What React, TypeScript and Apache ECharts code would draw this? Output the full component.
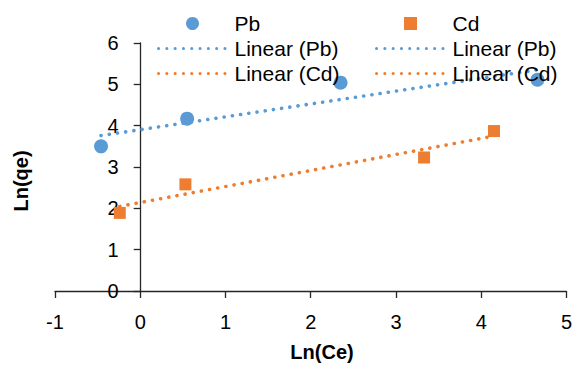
import React, { useEffect, useRef } from "react";
import * as echarts from "echarts";

const pbX = [-0.46, 0.55, 2.35, 4.66];
const pbY = [3.5, 4.17, 5.04, 5.11];
const cdX = [-0.24, 0.53, 3.33, 4.15];
const cdY = [1.89, 2.58, 3.23, 3.87];
const xTicks = { min: -1, max: 5, interval: 1 };
const yTicks = { min: 0, max: 6, interval: 1 };

const BLUE = "#5B9BD5";
const ORANGE = "#ED7D31";
const FONT = "Arial, 'Liberation Sans', sans-serif";
const SQUARE = "path://M0,0L10,0L10,10L0,10Z";

function fit(xs: number[], ys: number[]) {
  const n = xs.length;
  const mx = xs.reduce((a, b) => a + b, 0) / n;
  const my = ys.reduce((a, b) => a + b, 0) / n;
  let sxy = 0, sxx = 0;
  for (let i = 0; i < n; i++) {
    sxy += (xs[i] - mx) * (ys[i] - my);
    sxx += (xs[i] - mx) ** 2;
  }
  const m = sxy / sxx;
  const b = my - m * mx;
  const x0 = Math.min(...xs), x1 = Math.max(...xs);
  return [[x0, m * x0 + b], [x1, m * x1 + b]];
}

const GRID_LEFT = 55;
const GRID_RIGHT = 6;
const WIDTH = 575;

export default function App() {
  const ref = useRef<HTMLDivElement>(null);
  useEffect(() => {
    if (!ref.current) return;
    const chart = echarts.init(ref.current, null, { renderer: "svg" });
    const dotted = (color: string) => ({
      color,
      width: 3.6,
      type: [0.1, 8.2],
      cap: "round",
    });
    const hidden = { color: "rgba(0,0,0,0)", opacity: 0, borderWidth: 0 };
    const legendCommon = {
      orient: "vertical",
      top: 13,
      padding: 0,
      itemWidth: 68,
      itemHeight: 13,
      itemGap: 4,
      selectedMode: false,
      lineStyle: { width: 3 },
      textStyle: { fontSize: 21, lineHeight: 18, fontFamily: FONT, color: "#000", padding: [0, 0, 0, 3] },
    };
    const plotW = WIDTH - GRID_LEFT - GRID_RIGHT;
    const yOffset = -((0 - xTicks.min) / (xTicks.max - xTicks.min)) * plotW;
    const axisCol = "#262626";
    chart.setOption({
      animation: false,
      backgroundColor: "#fff",
      grid: { left: GRID_LEFT, right: GRID_RIGHT, top: 43, bottom: 74, containLabel: false },
      legend: [
        {
          ...legendCommon,
          left: 157,
          data: [
            "Pb",
            { name: "Linear (Pb)", itemStyle: hidden },
            { name: "Linear (Cd)", itemStyle: hidden },
          ],
        },
        {
          ...legendCommon,
          left: 375,
          data: [
            "Cd",
            { name: "Linear (Pb)", itemStyle: hidden },
            { name: "Linear (Cd)", itemStyle: hidden },
          ],
        },
      ],
      xAxis: {
        type: "value",
        ...xTicks,
        axisLine: { onZero: true, lineStyle: { color: axisCol, width: 1.3 } },
        axisTick: { show: true, length: 7, lineStyle: { color: axisCol, width: 1.3 } },
        axisLabel: { margin: 21, fontSize: 20, fontFamily: FONT, color: "#000" },
        splitLine: { show: false },
      },
      yAxis: {
        type: "value",
        ...yTicks,
        offset: yOffset,
        axisLine: { show: true, onZero: false, lineStyle: { color: axisCol, width: 1.3 } },
        axisTick: { show: true, length: 7, lineStyle: { color: axisCol, width: 1.3 } },
        axisLabel: { margin: 22, fontSize: 20, fontFamily: FONT, color: "#000" },
        splitLine: { show: false },
      },
      graphic: [
        {
          type: "text",
          x: 322,
          y: 352,
          style: {
            text: "Ln(Ce)",
            font: `bold 20px ${FONT}`,
            fill: "#000",
            align: "center",
            verticalAlign: "middle",
          },
        },
        {
          type: "text",
          x: 21,
          y: 181,
          rotation: Math.PI / 2,
          style: {
            text: "Ln(qe)",
            font: `bold 20px ${FONT}`,
            fill: "#000",
            align: "center",
            verticalAlign: "middle",
          },
        },
      ],
      series: [
        {
          name: "Linear (Pb)",
          type: "line",
          data: fit(pbX, pbY),
          symbol: "none",
          lineStyle: dotted(BLUE),
          itemStyle: { color: BLUE },
          z: 1,
        },
        {
          name: "Linear (Cd)",
          type: "line",
          data: fit(cdX, cdY),
          symbol: "none",
          lineStyle: dotted(ORANGE),
          itemStyle: { color: ORANGE },
          z: 1,
        },
        {
          name: "Pb",
          type: "scatter",
          symbol: "circle",
          symbolSize: 14,
          itemStyle: { color: BLUE, opacity: 1 },
          data: pbX.map((x, i) => [x, pbY[i]]),
          z: 3,
        },
        {
          name: "Cd",
          type: "scatter",
          symbol: SQUARE,
          symbolSize: 12,
          itemStyle: { color: ORANGE, opacity: 1 },
          data: cdX.map((x, i) => [x, cdY[i]]),
          z: 3,
        },
      ],
    });
    return () => chart.dispose();
  }, []);
  return (
    <div
      ref={ref}
      style={{ position: "fixed", left: 0, top: 0, width: WIDTH, height: 365 }}
    />
  );
}
